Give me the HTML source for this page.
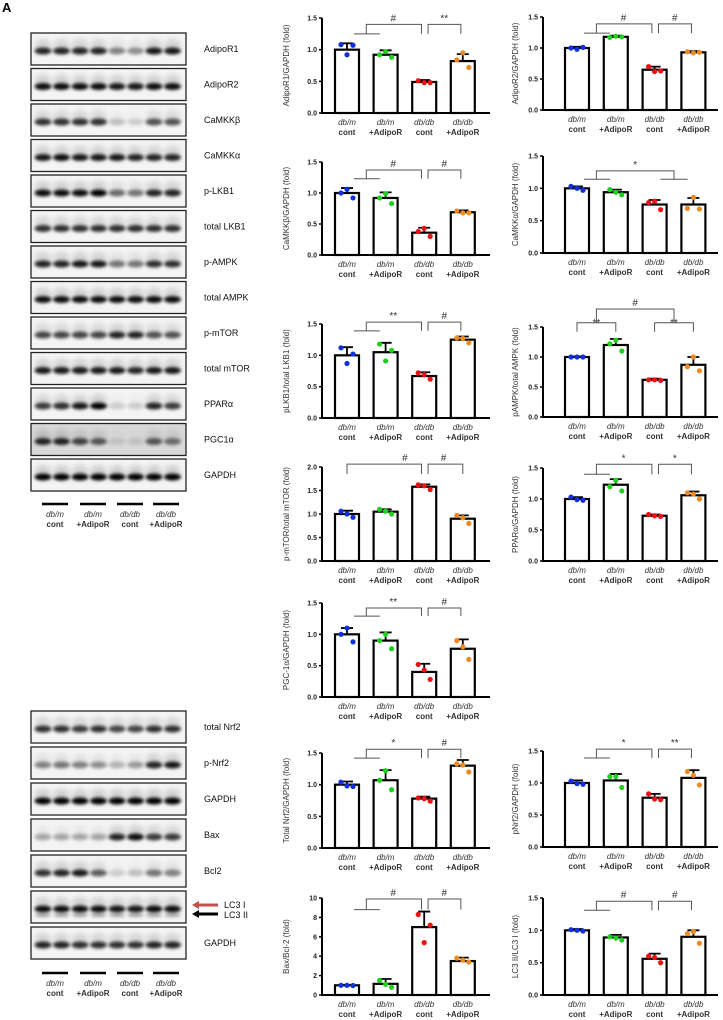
<!DOCTYPE html>
<html><head><meta charset="utf-8"><style>
body{margin:0;background:#fff}
svg{display:block;font-family:"Liberation Sans",Arial,sans-serif}
</style></head><body>
<svg id="fig" width="723" height="1020" viewBox="0 0 723 1020">
<defs>
<filter id="blur" x="-50%" y="-100%" width="200%" height="300%"><feGaussianBlur stdDeviation="1.6"/></filter>
<filter id="blur2" x="-50%" y="-100%" width="200%" height="300%"><feGaussianBlur stdDeviation="3"/></filter>
</defs>
<text x="2" y="12" font-size="13" font-weight="bold">A</text>
</svg>
<script>
// ---------- chart data ----------
const groups = ["db/m|cont","db/m|+AdipoR","db/db|cont","db/db|+AdipoR"];
const m1=[1.0,0.92,0.49,0.82], e1=[0.1,0.07,0.03,0.11], p1=[[1.08,0.92,1.07],[0.92,0.97,0.88],[0.51,0.48,0.48],[0.84,0.95,0.72]];
const m2=[1.0,1.18,0.65,0.93], e2=[0.02,0.02,0.05,0.02], p2=[[1.0,0.98,1.01],[1.17,1.19,1.18],[0.7,0.62,0.63],[0.94,0.92,0.93]];
const m3=[1.0,0.92,0.36,0.69], e3=[0.08,0.09,0.08,0.03], p3=[[1.0,1.06,0.92],[0.92,0.99,0.83],[0.38,0.43,0.3],[0.71,0.68,0.68]];
const m4=[1.0,0.94,0.75,0.75], e4=[0.03,0.04,0.07,0.1], p4=[[1.03,1.0,0.97],[0.98,0.94,0.9],[0.78,0.8,0.67],[0.69,0.86,0.68]];
const m5=[1.0,1.05,0.67,1.25], e5=[0.13,0.15,0.06,0.05], p5=[[1.12,0.87,1.02],[1.18,0.91,1.08],[0.72,0.69,0.62],[1.28,1.27,1.2]];
const m6=[1.0,1.2,0.62,0.87], e6=[0.01,0.1,0.02,0.13], p6=[[1.0,1.0,1.0],[1.22,1.28,1.1],[0.62,0.62,0.61],[0.84,1.0,0.77]];
const m7=[1.0,1.05,1.58,0.9], e7=[0.07,0.05,0.05,0.07], p7=[[1.06,1.0,0.93],[1.1,1.06,1.0],[1.62,1.6,1.52],[0.97,0.92,0.8]];
const m8=[1.0,1.23,0.73,1.06], e8=[0.03,0.09,0.02,0.06], p8=[[1.03,0.99,0.98],[1.2,1.3,1.13],[0.75,0.73,0.72],[1.1,1.08,1.0]];
const m9=[1.0,0.9,0.4,0.77], e9=[0.1,0.13,0.13,0.15], p9=[[1.0,1.1,0.88],[0.9,1.0,0.77],[0.52,0.43,0.28],[0.9,0.8,0.6]];
const m10=[1.0,1.07,0.78,1.3], e10=[0.05,0.16,0.03,0.09], p10=[[1.04,0.98,0.97],[1.07,1.22,0.92],[0.79,0.78,0.74],[1.33,1.31,1.2]];
const m11=[1.0,1.04,0.77,1.08], e11=[0.04,0.1,0.06,0.12], p11=[[1.03,0.99,0.98],[1.1,1.1,0.93],[0.83,0.75,0.74],[1.18,1.12,0.97]];
const m12=[1.0,1.15,7.0,3.5], e12=[0.05,0.5,1.6,0.35], p12=[[1.0,1.0,0.98],[1.5,1.1,0.8],[8.3,5.4,7.2],[3.8,3.6,3.4]];
const m13=[1.0,0.89,0.56,0.9], e13=[0.02,0.04,0.08,0.1], p13=[[1.01,1.0,0.99],[0.9,0.88,0.85],[0.6,0.58,0.5],[0.95,0.98,0.8]];
const ticks15=["0.0","0.5","1.0","1.5"], ticks20=["0.0","0.5","1.0","1.5","2.0"], ticks10=["0","2","4","6","8","10"];
const colors=["#1030e0","#20d020","#f01010","#f08a20"];

const NS="http://www.w3.org/2000/svg";
const svg=document.getElementById('fig');
function el(tag,attrs,parent){const e=document.createElementNS(NS,tag);for(const k in attrs)e.setAttribute(k,attrs[k]);(parent||svg).appendChild(e);return e;}

function chart(o){
  const g=el('g',{});
  
  
  const ticks=o.ticks, ymax=parseFloat(ticks[ticks.length-1]);
  const y=v=>o.y0-(v/ymax)*(o.y0-o.yTop);
  const xc=i=>o.ax+o.off+i*o.sp;
  o.means.forEach((mv,i)=>{
    const b=el('rect',{x:xc(i)-12,y:y(mv),width:24,height:o.y0-y(mv),fill:'#fff',stroke:'#000','stroke-width':2.2},g);
    
    
    const t=y(mv+o.errs[i]);
    const eb=el('path',{d:`M${xc(i)},${y(mv)}V${t}M${xc(i)-6},${t}H${xc(i)+6}`,stroke:'#000','stroke-width':1.8,fill:'none'},g);
    
    
    o.pts[i].forEach((pv,j)=>{
      const c=el('circle',{cx:xc(i)+(j-1)*6,cy:y(pv),r:2.6,fill:colors[i]},g);
      
      
    });
  });
  const ax=el('path',{d:`M${o.ax},${y(ymax)}V${o.y0}H${o.xe}`,stroke:'#000','stroke-width':2,fill:'none'},g);
  
  
  ticks.forEach(tl=>{
    const v=parseFloat(tl);
    el('path',{d:`M${o.ax-3},${y(v)}H${o.ax}`,stroke:'#000','stroke-width':1.5},g);
    const t=el('text',{x:o.ax-5,y:y(v)+2.5,'font-size':7,'font-weight':'bold','text-anchor':'end',fill:'#222'},g);
    t.textContent=tl;
    
    
  });
  groups.forEach((gl,i)=>{
    const [a,b]=gl.split('|');
    const t1=el('text',{x:xc(i),y:o.y0+12,'font-size':8,'font-style':'italic','text-anchor':'middle',fill:'#333'},g);
    t1.textContent=a;
    
    
    const t2=el('text',{x:xc(i),y:o.y0+22,'font-size':8,'font-weight':'bold','text-anchor':'middle',fill:'#333'},g);
    t2.textContent=b;
    
    
  });
  const ty=(o.y0+y(ymax))/2;
  const tt=el('text',{x:o.tx,y:ty,'font-size':8,'text-anchor':'middle',fill:'#333',transform:`rotate(-90 ${o.tx} ${ty})`},g);
  tt.textContent=o.title;
  
  
  const X=gx=>xc(gx);
  let d='';
  const [type,a1,a2,a3,s1,s2]=o.sig;
  if(type==='P1'){
    d+=`M${X(0.18)},${y(a1)}H${X(0.85)}M${X(0.5)},${y(a1)}V${y(a2)}H${X(1.93)}V${y(a1)}M${X(2.1)},${y(a1)}V${y(a2)}H${X(2.95)}V${y(a1)}`;
    lbl(1.2,a2,s1);lbl(2.52,a2,s2);
  } else if(type==='P2'){
    d+=`M${X(0.18)},${y(a1)}H${X(0.85)}M${X(2.15)},${y(a1)}H${X(2.85)}M${X(0.5)},${y(a1)}V${y(a2)}H${X(2.5)}V${y(a1)}`;
    lbl(1.5,a2,s1);
  } else if(type==='P3'){
    d+=`M${X(0)},${y(a1)}V${y(a2)}H${X(1)}V${y(a1)}M${X(2)},${y(a1)}V${y(a2)}H${X(3)}V${y(a1)}M${X(0.5)},${y(a2)}V${y(a3)}H${X(2.5)}V${y(a2)}`;
    lbl(0.5,a2-0.1,s1);lbl(2.5,a2-0.1,s1);lbl(1.5,a3,s2);
  } else if(type==='P4'){
    d+=`M${X(0)},${y(a1)}V${y(a2)}H${X(1.93)}V${y(a1)}M${X(2.1)},${y(a1)}V${y(a2)}H${X(3)}V${y(a1)}`;
    lbl(1.5,a2,s1);lbl(2.5,a2,s2);
  }
  const sp=el('path',{d:d,stroke:'#555','stroke-width':1,fill:'none'},g);
  
  
  function lbl(gx,v,s){
    const t=el('text',{x:X(gx),y:y(v)-3,'font-size':10,'text-anchor':'middle',fill:'#333'},g);
    t.textContent=s;
    
    
  }
}
const L={ax:322,xe:490,off:25,sp:38.6,tx:289};
const R={ax:543,xe:718,off:34,sp:38.8,tx:518};
chart({...L,key:'adipor1',name:'chart-adipor1',yTop:18,y0:113,ticks:ticks15,means:m1,errs:e1,pts:p1,title:'AdipoR1/GAPDH (fold)',sig:['P1',1.25,1.4,0,'#','**']});
chart({...R,key:'adipor2',name:'chart-adipor2',yTop:17,y0:110,ticks:ticks15,means:m2,errs:e2,pts:p2,title:'AdipoR2/GAPDH (fold)',sig:['P1',1.24,1.39,0,'#','#']});
chart({...L,key:'camkkb',name:'chart-camkk-beta',yTop:162,y0:255,ticks:ticks15,means:m3,errs:e3,pts:p3,title:'CaMKKβ/GAPDH (fold)',sig:['P1',1.23,1.37,0,'#','#']});
chart({...R,key:'camkka',name:'chart-camkk-alpha',yTop:156,y0:253,ticks:ticks15,means:m4,errs:e4,pts:p4,title:'CaMKKα/GAPDH (fold)',sig:['P2',1.14,1.27,0,'*']});
chart({...L,key:'plkb1',name:'chart-plkb1',yTop:324,y0:418,ticks:ticks15,means:m5,errs:e5,pts:p5,title:'pLKB1/total LKB1 (fold)',sig:['P1',1.39,1.53,0,'**','#']});
chart({...R,key:'pampk',name:'chart-pampk',yTop:327,y0:417,ticks:ticks15,means:m6,errs:e6,pts:p6,title:'pAMPK/total AMPK (fold)',sig:['P3',1.42,1.57,1.8,'**','#']});
chart({...L,key:'pmtor',name:'chart-pmtor',yTop:467,y0:561,ticks:ticks20,means:m7,errs:e7,pts:p7,title:'p-mTOR/total mTOR (fold)',sig:['P4',1.85,2.06,0,'#','#']});
chart({...R,key:'ppara',name:'chart-ppar-alpha',yTop:468,y0:561,ticks:ticks15,means:m8,errs:e8,pts:p8,title:'PPARα/GAPDH (fold)',sig:['P1',1.4,1.56,0,'*','*']});
chart({...L,key:'pgc1a',name:'chart-pgc1-alpha',yTop:603,y0:697,ticks:ticks15,means:m9,errs:e9,pts:p9,title:'PGC-1α/GAPDH (fold)',sig:['P1',1.29,1.42,0,'**','#']});
chart({...L,key:'nrf2',name:'chart-total-nrf2',yTop:753,y0:848,ticks:ticks15,means:m10,errs:e10,pts:p10,title:'Total Nrf2/GAPDH (fold)',sig:['P1',1.42,1.56,0,'*','#']});
chart({...R,key:'pnrf2',name:'chart-pnrf2',yTop:751,y0:847,ticks:ticks15,means:m11,errs:e11,pts:p11,title:'pNrf2/GAPDH (fold)',sig:['P1',1.39,1.53,0,'*','**']});
chart({...L,key:'baxbcl2',name:'chart-bax-bcl2',yTop:898,y0:995,ticks:ticks10,means:m12,errs:e12,pts:p12,title:'Bax/Bcl-2 (fold)',sig:['P1',8.8,9.9,0,'#','#']});
chart({...R,key:'lc3',name:'chart-lc3',yTop:898,y0:995,ticks:ticks15,means:m13,errs:e13,pts:p13,title:'LC3 II/LC3 I (fold)',sig:['P1',1.31,1.45,0,'#','#']});

// ---------- western blots ----------
const topRows=[
 ['AdipoR1',[.85,.85,.85,.85,.45,.4,.9,.9]],
 ['AdipoR2',[.95,.95,.95,.95,.9,.9,.95,.95]],
 ['CaMKKβ',[.8,.8,.8,.8,.2,.15,.65,.65]],
 ['CaMKKα',[.9,.95,.9,.9,.9,.85,.85,.85]],
 ['p-LKB1',[.95,.95,.95,1,.55,.5,.85,.85]],
 ['total LKB1',[.8,.8,.8,.8,.8,.8,.8,.8]],
 ['p-AMPK',[.85,.85,.9,.9,.5,.5,.8,.8]],
 ['total AMPK',[.95,.95,.95,.95,.95,.95,.95,.95]],
 ['p-mTOR',[.7,.7,.7,.7,.85,.85,.65,.65]],
 ['total mTOR',[.9,.9,.9,.9,.9,.85,.9,.9]],
 ['PPARα',[.75,.8,.9,1,.15,.15,.85,.75]],
 ['PGC1α',[.85,.85,.7,.6,.1,.1,.6,.5]],
 ['GAPDH',[1,1,1,1,1,1,1,1]]];
const botRows=[
 ['total Nrf2',[.8,.8,.75,.8,.7,.7,.8,.8]],
 ['p-Nrf2',[.45,.5,.45,.4,.25,.35,.85,.9]],
 ['GAPDH',[1,1,1,1,1,1,1,1]],
 ['Bax',[.3,.3,.3,.3,.85,.95,.75,.75]],
 ['Bcl2',[.8,.85,.9,.6,.15,.2,.5,.45]],
 ['LC3',[.95,.95,.95,.95,.9,.9,.95,.95]],
 ['GAPDH',[.85,.85,.8,.8,.8,.8,.85,.85]]];
function blots(rows,top,pitch,key){
  rows.forEach((r,ri)=>{
    const g=el('g',{});
    
    
    const yt=top+ri*pitch, h=32, cy=yt+h/2+2;
    el('rect',{x:31,y:yt,width:155,height:h,fill:r[0]==='PGC1α'?'#d8d8d8':'#f4f4f4'},g);
    r[1].forEach((v,i)=>{
      const cx=43+i*18.5;
      el('ellipse',{cx:cx,cy:cy-6,rx:8,ry:6,fill:'#000',opacity:v*0.15,filter:'url(#blur2)'},g);
      el('ellipse',{cx:cx,cy:cy,rx:8.5,ry:3.5,fill:'#000',opacity:v,filter:'url(#blur)'},g);
      if(r[0]==='LC3') el('ellipse',{cx:cx,cy:cy+6,rx:8,ry:2,fill:'#000',opacity:0.35,filter:'url(#blur)'},g);
    });
    el('rect',{x:31,y:yt,width:155,height:h,fill:'none',stroke:'#222','stroke-width':1.3},g);
    if(r[0]!=='LC3'){
      const t=el('text',{x:204,y:cy+1,'font-size':9,fill:'#111'},g);
      t.textContent=r[0];
      
      
    } else {
      el('path',{d:`M218,${cy-4}H198`,stroke:'#c0504d','stroke-width':3},g);
      el('path',{d:`M199,${cy-8}L192,${cy-4}L199,${cy}Z`,fill:'#c0504d'},g);
      el('path',{d:`M218,${cy+5}H198`,stroke:'#000','stroke-width':3},g);
      el('path',{d:`M199,${cy+1}L192,${cy+5}L199,${cy+9}Z`,fill:'#000'},g);
      const a=el('text',{x:224,y:cy-1,'font-size':9,fill:'#111'},g); a.textContent='LC3 I';
      
      
      const b=el('text',{x:224,y:cy+9,'font-size':9,fill:'#111'},g); b.textContent='LC3 II';
      
      
    }
  });
}
blots(topRows,33,35.5,'top');
blots(botRows,711,36,'bottom');
function laneLabels(yb){
  const xs=[55,93,130,166];
  groups.forEach((gl,i)=>{
    const [a,b]=gl.split('|');
    el('path',{d:`M${xs[i]-13},${yb}H${xs[i]+13}`,stroke:'#000','stroke-width':2.5});
    const t1=el('text',{x:xs[i],y:yb+13,'font-size':8,'font-style':'italic','text-anchor':'middle',fill:'#333'});
    t1.textContent=a;
    
    
    const t2=el('text',{x:xs[i],y:yb+23,'font-size':8,'font-weight':'bold','text-anchor':'middle',fill:'#333'});
    t2.textContent=b;
    
    
  });
}
laneLabels(504);
laneLabels(973);
</script>
</body></html>
